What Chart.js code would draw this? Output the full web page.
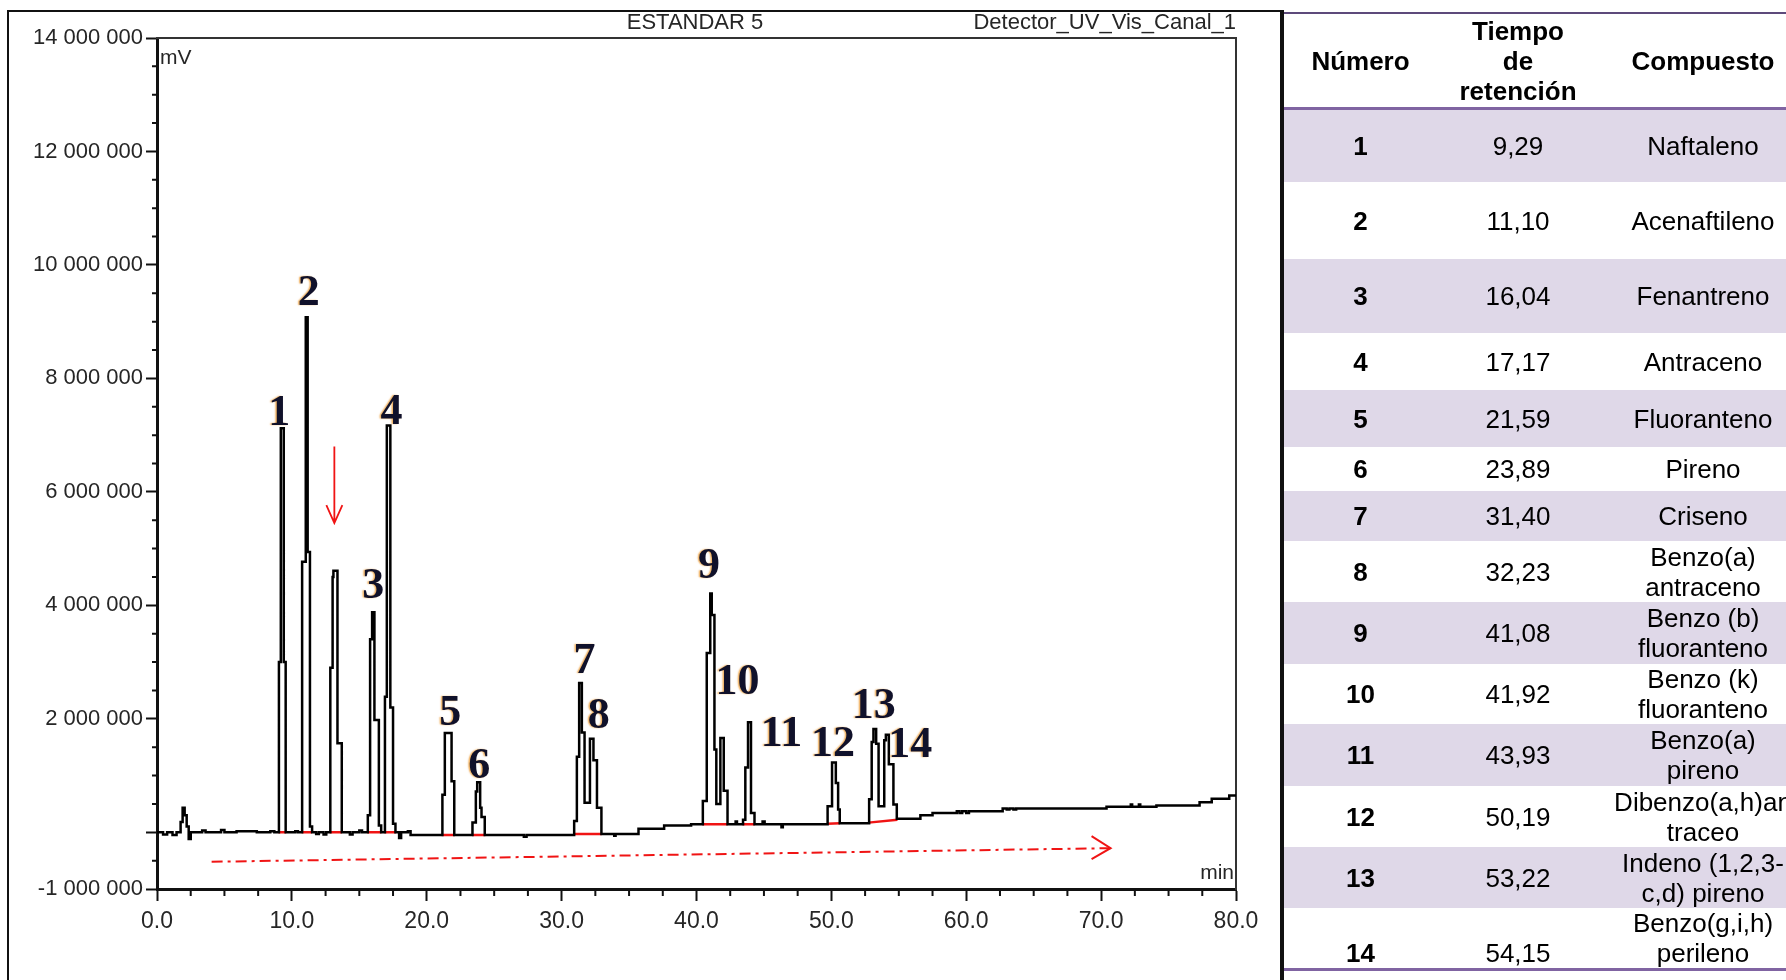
<!DOCTYPE html>
<html lang="es">
<head>
<meta charset="utf-8">
<title>Cromatograma ESTANDAR 5 – HAP</title>
<script src="https://cdn.jsdelivr.net/npm/chart.js@4.4.1/dist/chart.umd.min.js"></script>
<style>
  html, body { margin: 0; padding: 0; background: #fff; }
  body { width: 1786px; height: 980px; overflow: hidden; position: relative;
         font-family: 'Liberation Sans', Arial, sans-serif; }
  #c { position: absolute; left: 0; top: 0; }
  .rule { position: absolute; background: #111; }
  #ruleLeft  { left: 7px;    top: 10px; width: 2px; height: 970px; }
  #ruleTop   { left: 7px;    top: 10px; width: 1276px; height: 2px; }
  #ruleTable { left: 1280px; top: 10px; width: 4px; height: 970px; }
  #peaks { position: absolute; left: 1284px; top: 12px; width: 523px;
           border-collapse: separate; border-spacing: 0; table-layout: fixed; }
  #peaks th, #peaks td { box-sizing: border-box; padding: 0; text-align: center;
           vertical-align: middle; white-space: nowrap; font-size: 26px; line-height: 30px; color: #000; }
  #peaks th { font-weight: bold; border-top: 2px solid #5d4a7b; border-bottom: 3px solid #8064a2; }
  #peaks td.num { font-weight: bold; }
  #peaks tr.band td { background: #dfd8e8; }
  #peaks tr.last td { border-bottom: 3px solid #8064a2; vertical-align: bottom; }
</style>
</head>
<body>
<canvas id="c" width="1278" height="980" style="width:1278px;height:980px"></canvas>
<div class="rule" id="ruleLeft"></div>
<div class="rule" id="ruleTop"></div>
<div class="rule" id="ruleTable"></div>
<table id="peaks">
  <colgroup><col style="width:153px"><col style="width:162px"><col style="width:208px"></colgroup>
  <thead></thead>
  <tbody></tbody>
</table>

<script>
// ---- Peak table data -------------------------------------------------------
const peakNumbers = [1, 2, 3, 4, 5, 6, 7, 8, 9, 10, 11, 12, 13, 14];
const retentionTimes = [9.29, 11.10, 16.04, 17.17, 21.59, 23.89, 31.40, 32.23, 41.08, 41.92, 43.93, 50.19, 53.22, 54.15];
const compoundNames = [
  ['Naftaleno'], ['Acenaftileno'], ['Fenantreno'], ['Antraceno'], ['Fluoranteno'], ['Pireno'],
  ['Criseno'], ['Benzo(a)', 'antraceno'], ['Benzo (b)', 'fluoranteno'], ['Benzo (k)', 'fluoranteno'],
  ['Benzo(a)', 'pireno'], ['Dibenzo(a,h)an', 'traceo'], ['Indeno (1,2,3-', 'c,d) pireno'],
  ['Benzo(g,i,h)', 'perileno']
];
const headerCells = [['Número'], ['Tiempo', 'de', 'retención'], ['Compuesto']];

// ---- Axis tick values -------------------------------------------------------
const timeTicks = [0, 10, 20, 30, 40, 50, 60, 70, 80];
const signalTicks = [-1000000, 0, 2000000, 4000000, 6000000, 8000000, 10000000, 12000000, 14000000];

// ---- Detector signal: [time (min), level]; each level holds until the next time
const trace = [
  [0, 0], [0.45, -40000], [0.75, 0], [1.15, -50000], [1.45, 0],
  [1.75, 180000], [1.9, 430000], [2.05, 300000], [2.2, 100000], [2.35, -120000], [2.5, 0],
  [3.35, 30000], [3.6, 0], [4.75, 40000], [5.0, 0], [5.9, 20000], [7.4, 0], [8.4, 20000], [8.7, 0],
  [9.04, 3000000], [9.18, 7120000], [9.40, 3000000], [9.54, 0],
  [10.25, 20000], [10.45, 0],
  [10.76, 4770000], [11.03, 9080000], [11.17, 4940000], [11.34, 100000], [11.5, 0],
  [11.8, -30000], [12.0, 0], [12.35, -40000], [12.55, 0],
  [12.85, 2900000], [13.02, 4500000], [13.08, 4610000], [13.38, 1570000], [13.7, 0],
  [14.3, -40000], [14.5, 0], [15.0, 30000], [15.2, 0],
  [15.63, 300000], [15.8, 3400000], [15.95, 3880000], [16.12, 1980000], [16.45, 120000], [16.62, 0],
  [16.9, 2390000], [17.04, 7170000], [17.3, 2200000], [17.5, 150000], [17.68, 0],
  [17.95, -100000], [18.1, 0], [18.6, 20000], [18.8, -50000],
  [21.16, 660000], [21.34, 1750000], [21.84, 900000], [22.04, -50000],
  [23.39, 170000], [23.64, 720000], [23.74, 880000], [23.96, 430000], [24.06, 270000], [24.3, -50000],
  [27.2, -80000], [27.4, -50000],
  [30.93, 200000], [31.13, 1330000], [31.3, 2630000], [31.5, 1760000], [31.7, 520000],
  [32.1, 1650000], [32.36, 1270000], [32.62, 430000], [32.95, -30000],
  [33.9, -60000], [34.0, -30000], [35.7, 60000], [37.6, 120000], [39.6, 140000],
  [40.47, 550000], [40.76, 3160000], [41.02, 4210000], [41.13, 3830000], [41.33, 1460000], [41.47, 500000],
  [41.77, 1660000], [42.02, 730000], [42.3, 140000],
  [42.9, 190000], [43.0, 140000],
  [43.45, 220000], [43.62, 1140000], [43.82, 1940000], [44.04, 340000], [44.3, 140000],
  [44.9, 190000], [45.05, 140000], [46.3, 90000], [46.4, 140000],
  [49.72, 460000], [50.05, 1230000], [50.33, 870000], [50.5, 400000], [50.62, 160000],
  [52.8, 580000], [52.99, 1590000], [53.12, 1820000], [53.32, 1560000], [53.5, 460000],
  [53.92, 1620000], [54.04, 1720000], [54.26, 1200000], [54.6, 490000], [54.85, 240000],
  [56.6, 300000], [57.5, 340000], [59.3, 370000], [59.5, 340000], [59.7, 370000], [60.0, 340000], [60.2, 370000],
  [62.7, 420000], [63.0, 400000], [63.2, 420000], [63.5, 400000], [63.7, 420000],
  [70.4, 450000], [72.2, 490000], [72.3, 450000], [72.8, 490000], [72.9, 450000],
  [74.1, 470000], [77.3, 530000], [78.2, 590000], [79.5, 650000], [80, 650000]
];

// ---- Integration baselines (start/end time and level) ----------------------
const integStart = [9.0, 10.72, 12.8, 15.58, 16.85, 21.1, 23.35, 30.88, 40.42, 43.4, 49.68, 52.75];
const integEnd   = [9.58, 11.5, 13.72, 16.65, 17.72, 22.1, 24.35, 32.98, 42.32, 44.32, 50.64, 54.9];
const integFrom  = [0, 0, 0, 0, 0, -50000, -50000, -30000, 140000, 140000, 150000, 170000];
const integTo    = [0, 0, 0, 0, 0, -50000, -50000, -30000, 140000, 140000, 160000, 220000];

// ---- Red annotations (data coordinates) ------------------------------------
const markerArrow = { t: 13.15, from: 6800000, to: 5450000 };
const driftArrow  = { t0: 4.05, v0: -520000, t1: 70.7, v1: -280000 };

// ---- Label placement (pixel offsets from each peak apex) -------------------
const labelOffsets = [[-3, -18], [2, -27], [0, -29], [3, -16], [2, -23], [0, -19], [4, -25],
                      [7, -26], [-2, -30], [15, -59], [32, 9], [-1, -21], [-1, -26], [23, 7]];

// ---- Table --------------------------------------------------------------------
(function buildTable() {
  const rowHeights = [72, 77, 74, 57, 57, 44, 50, 61, 62, 60, 62, 61, 61, 63];
  const thead = document.querySelector('#peaks thead');
  const hr = document.createElement('tr');
  headerCells.forEach(lines => {
    const th = document.createElement('th');
    th.style.height = '98px';
    th.innerHTML = lines.join('<br>');
    hr.appendChild(th);
  });
  thead.appendChild(hr);
  const tbody = document.querySelector('#peaks tbody');
  peakNumbers.forEach((n, i) => {
    const tr = document.createElement('tr');
    if (i % 2 === 0) tr.className = 'band';
    if (i === peakNumbers.length - 1) tr.className += ' last';
    const cells = [String(n), retentionTimes[i].toFixed(2).replace('.', ','), compoundNames[i].join('<br>')];
    cells.forEach((html, j) => {
      const td = document.createElement('td');
      td.style.height = rowHeights[i] + 'px';
      if (j === 0) td.className = 'num';
      td.innerHTML = html;
      tr.appendChild(td);
    });
    tbody.appendChild(tr);
  });
})();

// ---- Chart ----------------------------------------------------------------------
const fmtSignal = v => (v < 0 ? '-' : '') + String(Math.abs(v)).replace(/\B(?=(\d{3})+(?!\d))/g, ' ');

function apexLevel(rt) {
  let best = -Infinity;
  for (let i = 0; i < trace.length; i++) {
    const t0 = trace[i][0];
    const t1 = i + 1 < trace.length ? trace[i + 1][0] : t0;
    if (t1 >= rt - 0.3 && t0 <= rt + 0.3) best = Math.max(best, trace[i][1]);
  }
  return best;
}

const integData = [];
integStart.forEach((t, i) => {
  integData.push({ x: t, y: integFrom[i] }, { x: integEnd[i], y: integTo[i] }, { x: integEnd[i], y: null });
});

const RED = '#f01414';
const AXIS = '#111';
const LABEL_GREY = '#262626';

const decorations = {
  id: 'decorations',
  afterDatasetsDraw(chart) {
    const { ctx, scales: { x, y } } = chart;
    ctx.save();
    // red marker arrow
    ctx.strokeStyle = RED; ctx.lineWidth = 1.8; ctx.setLineDash([]);
    const ax = x.getPixelForValue(markerArrow.t);
    const ay0 = y.getPixelForValue(markerArrow.from), ay1 = y.getPixelForValue(markerArrow.to);
    ctx.beginPath();
    ctx.moveTo(ax, ay0); ctx.lineTo(ax, ay1);
    ctx.moveTo(ax - 8, ay1 - 18); ctx.lineTo(ax, ay1); ctx.lineTo(ax + 8, ay1 - 18);
    ctx.stroke();
    // drift arrow (dash-dot)
    const dx0 = x.getPixelForValue(driftArrow.t0), dy0 = y.getPixelForValue(driftArrow.v0);
    const dx1 = x.getPixelForValue(driftArrow.t1), dy1 = y.getPixelForValue(driftArrow.v1);
    ctx.lineWidth = 2;
    ctx.setLineDash([11, 5, 3, 5]);
    ctx.beginPath(); ctx.moveTo(dx0, dy0); ctx.lineTo(dx1, dy1); ctx.stroke();
    ctx.setLineDash([]);
    ctx.beginPath();
    ctx.moveTo(dx1 - 19, dy1 - 12); ctx.lineTo(dx1, dy1); ctx.lineTo(dx1 - 19, dy1 + 11);
    ctx.stroke();

    // peak numbers
    ctx.font = 'bold 44px "Liberation Serif", "DejaVu Serif", serif';
    ctx.textAlign = 'center'; ctx.textBaseline = 'alphabetic';
    peakNumbers.forEach((n, i) => {
      const px = x.getPixelForValue(retentionTimes[i]) + labelOffsets[i][0];
      const py = y.getPixelForValue(apexLevel(retentionTimes[i])) + labelOffsets[i][1] + 15;
      ctx.shadowColor = 'rgba(235,150,40,0.75)';
      ctx.shadowOffsetX = -1.5; ctx.shadowOffsetY = 0; ctx.shadowBlur = 1.5;
      ctx.fillStyle = '#10112a';
      ctx.fillText(String(n), px, py);
    });
    ctx.restore();
  },
  afterDraw(chart) {
    const { ctx, chartArea: a, scales: { x, y } } = chart;
    ctx.save();
    // minor ticks
    ctx.strokeStyle = AXIS; ctx.lineWidth = 2;
    ctx.beginPath();
    for (let v = -1000000; v <= 14000000; v += 500000) {
      if (signalTicks.includes(v)) continue;
      const py = y.getPixelForValue(v);
      ctx.moveTo(a.left - 5, py); ctx.lineTo(a.left, py);
    }
    for (let t = 0; t <= 80; t += 2.5) {
      if (timeTicks.includes(t)) continue;
      const px = x.getPixelForValue(t);
      ctx.moveTo(px, a.bottom); ctx.lineTo(px, a.bottom + 7);
    }
    ctx.stroke();
    // header and unit texts
    ctx.fillStyle = LABEL_GREY;
    ctx.font = '22px "Liberation Sans", Arial, sans-serif';
    ctx.textBaseline = 'middle';
    ctx.textAlign = 'center';
    ctx.fillText('ESTANDAR 5', 695, a.top - 15);
    ctx.textAlign = 'right';
    ctx.fillText('Detector_UV_Vis_Canal_1', a.right, a.top - 15);
    ctx.font = '21px "Liberation Sans", Arial, sans-serif';
    ctx.textAlign = 'left';
    ctx.fillText('mV', a.left + 3, a.top + 20);
    ctx.textAlign = 'right';
    ctx.fillText('min', a.right - 2, a.bottom - 16);
    ctx.restore();
  }
};

new Chart(document.getElementById('c'), {
  type: 'line',
  data: {
    datasets: [
      {
        label: 'Señal', xAxisID: 'x', yAxisID: 'y',
        data: trace.map(([t, v]) => ({ x: t, y: v })),
        stepped: true, borderColor: '#000', borderWidth: 2.5, pointRadius: 0, fill: false, order: 0
      },
      {
        label: 'Línea base de integración', xAxisID: 'x', yAxisID: 'y',
        data: integData, spanGaps: false,
        borderColor: RED, borderWidth: 2.5, pointRadius: 0, fill: false, order: 1
      }
    ]
  },
  options: {
    responsive: false, animation: false, events: [],
    layout: { padding: { top: 38, right: 42, left: 0, bottom: 0 } },
    plugins: { legend: { display: false }, tooltip: { enabled: false }, title: { display: false } },
    scales: {
      x: {
        type: 'linear', position: 'bottom', min: 0, max: 80,
        afterBuildTicks: s => { s.ticks = timeTicks.map(v => ({ value: v })); },
        afterFit: s => { s.height = 91; },
        ticks: {
          callback: v => Number(v).toFixed(1), color: LABEL_GREY, padding: 7,
          maxRotation: 0, autoSkip: false,
          font: { family: '"Liberation Sans", Arial, sans-serif', size: 23 }
        },
        grid: { display: true, drawOnChartArea: false, drawTicks: true, tickLength: 12, tickWidth: 2, tickColor: AXIS },
        border: { display: true, width: 3, color: AXIS }
      },
      y: {
        type: 'linear', position: 'left', min: -1000000, max: 14000000,
        afterBuildTicks: s => { s.ticks = signalTicks.map(v => ({ value: v })); },
        afterFit: s => { s.width = 157; },
        ticks: {
          callback: v => (v === 0 ? '' : fmtSignal(v)), color: LABEL_GREY, padding: 3, autoSkip: false,
          font: { family: '"Liberation Sans", Arial, sans-serif', size: 22 }
        },
        grid: { display: true, drawOnChartArea: false, drawTicks: true, tickLength: 11, tickWidth: 2, tickColor: AXIS },
        border: { display: true, width: 3, color: AXIS }
      },
      xTop: {
        type: 'linear', position: 'top', min: 0, max: 80,
        ticks: { display: false }, grid: { display: false, drawTicks: false },
        border: { display: true, width: 2, color: '#333' }
      },
      yRight: {
        type: 'linear', position: 'right', min: -1000000, max: 14000000,
        ticks: { display: false }, grid: { display: false, drawTicks: false },
        border: { display: true, width: 2, color: '#333' }
      }
    }
  },
  plugins: [decorations]
});
</script>
</body>
</html>
